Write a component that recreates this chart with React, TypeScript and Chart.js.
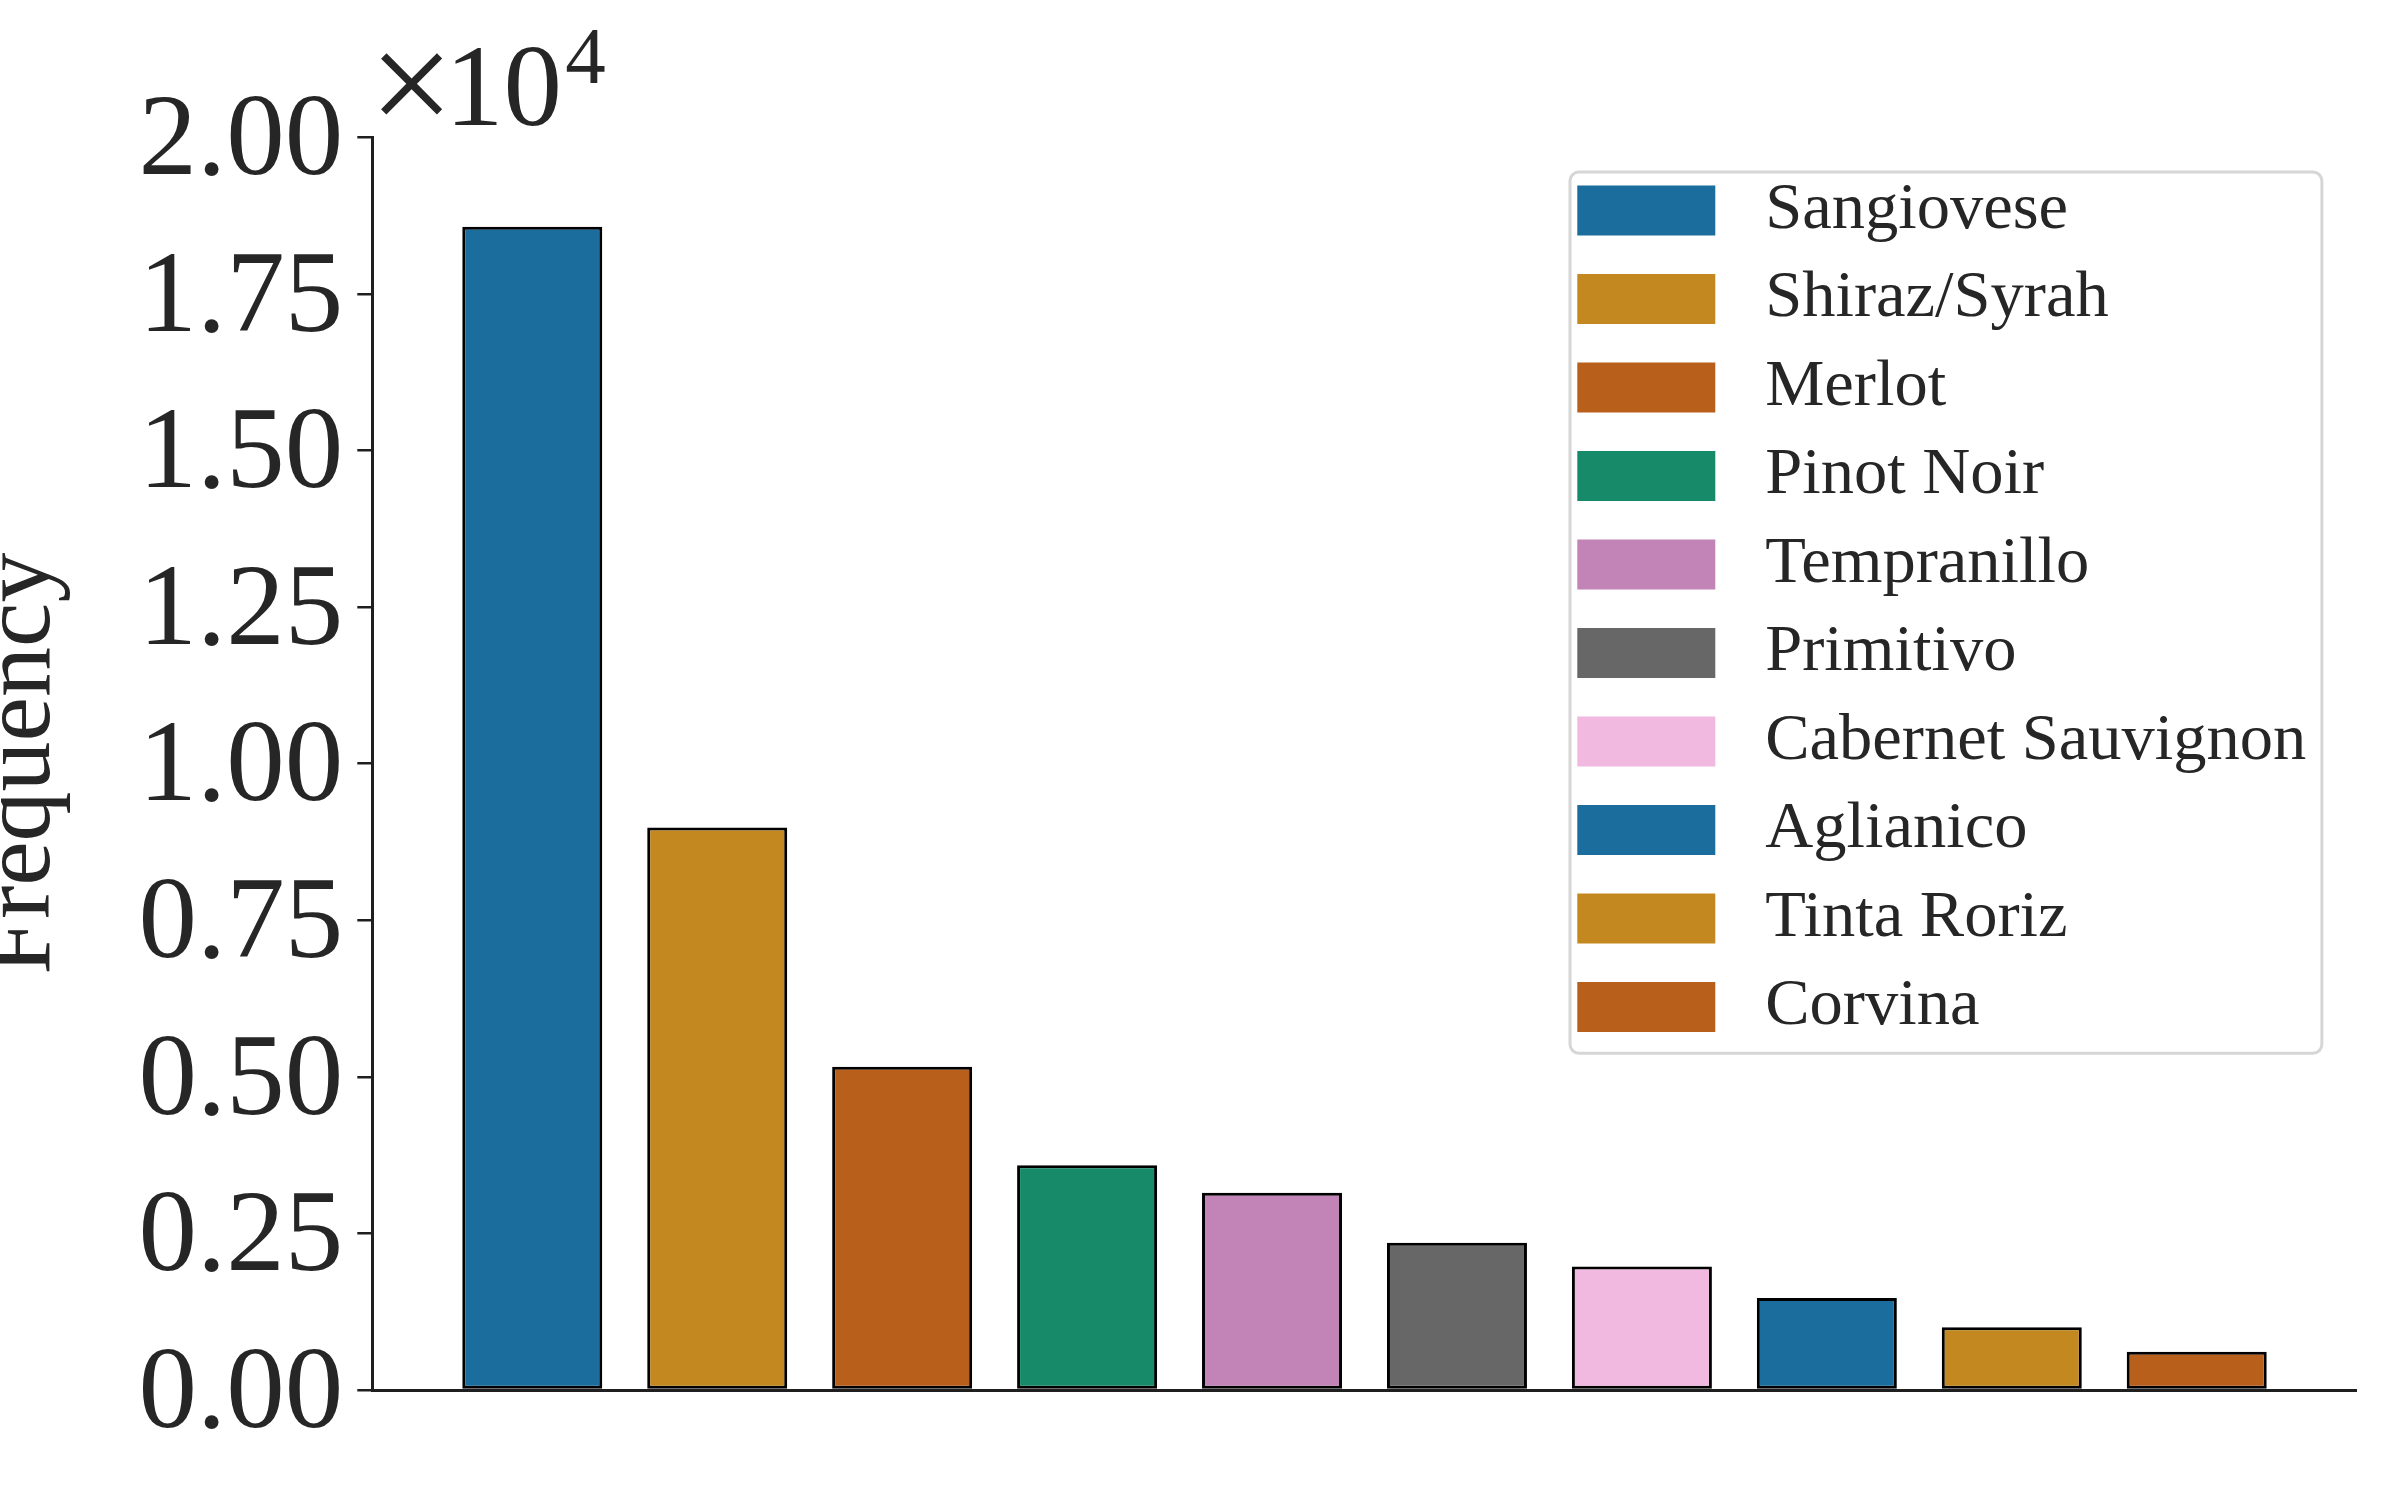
import React, { useEffect, useRef } from 'react';
import { Chart, registerables } from 'chart.js';

Chart.register(...registerables);

// ---------- data ----------
const categories = [
  'Sangiovese',
  'Shiraz/Syrah',
  'Merlot',
  'Pinot Noir',
  'Tempranillo',
  'Primitivo',
  'Cabernet Sauvignon',
  'Aglianico',
  'Tinta Roriz',
  'Corvina',
];
const frequencies = [18570, 8980, 5160, 3590, 3150, 2350, 1970, 1470, 1000, 610];
const barColors = [
  '#1a6d9c',
  '#c3881f',
  '#b95f1c',
  '#178a6a',
  '#c283b6',
  '#676767',
  '#f1b8e0',
  '#1a6d9c',
  '#c3881f',
  '#b95f1c',
];
const yTickLabels = ['0.00', '0.25', '0.50', '0.75', '1.00', '1.25', '1.50', '1.75', '2.00'];
const yAxisTitle = 'Frequency';
const offsetBase = '10';
const offsetTimes = '×';
const offsetExponent = '4';

// ---------- styles ----------
const FONT = '"Liberation Serif", "Times New Roman", Times, serif';
const TEXT = '#262626';
const AXIS = '#1f1f1f';

const legendPlacement = {
  id: 'legendPlacement',
  afterLayout(chart: any) {
    const lg = chart.legend;
    if (!lg) return;
    lg.left = 1555.3;
    lg.top = 155.2;
    lg.right = chart.width;
    lg.bottom = chart.height;
  },
};

const legendFrame = {
  id: 'legendFrame',
  afterDraw(chart: any) {
    const hb = chart.legend && chart.legend.legendHitBoxes;
    if (!hb || !hb.length) return;
    let l = Infinity, t = Infinity, r = -Infinity, b = -Infinity;
    for (const h of hb) {
      l = Math.min(l, h.left);
      t = Math.min(t, h.top);
      r = Math.max(r, h.left + h.width);
      b = Math.max(b, h.top + h.height);
    }
    const x0 = l - 7.3, y0 = t - 5.2, x1 = r + 15.6, y1 = b + 13.1;
    const ctx = chart.ctx;
    ctx.save();
    ctx.strokeStyle = '#d6d6d6';
    ctx.lineWidth = 3;
    ctx.beginPath();
    if (ctx.roundRect) ctx.roundRect(x0, y0, x1 - x0, y1 - y0, 9);
    else ctx.rect(x0, y0, x1 - x0, y1 - y0);
    ctx.stroke();
    ctx.restore();
  },
};

const offsetText = {
  id: 'offsetText',
  afterDraw(chart: any) {
    const { ctx, chartArea } = chart;
    const L = chartArea.left;
    const T = chartArea.top;
    ctx.save();
    ctx.fillStyle = TEXT;
    ctx.textBaseline = 'alphabetic';
    ctx.textAlign = 'center';
    ctx.font = `150px ${FONT}`;
    ctx.fillText(offsetTimes, L + 39.2, T - 3.5);
    ctx.textAlign = 'left';
    ctx.font = `117px ${FONT}`;
    ctx.fillText(offsetBase, L + 72.7, T - 12.8);
    ctx.font = `81px ${FONT}`;
    ctx.fillText(offsetExponent, L + 193, T - 54.5);
    ctx.restore();
  },
};

export default function App() {
  const ref = useRef<HTMLCanvasElement>(null);

  useEffect(() => {
    document.body.style.margin = '0';
    document.body.style.background = '#ffffff';
    const canvas = ref.current;
    if (!canvas) return;

    const chart = new Chart(canvas, {
      type: 'bar',
      data: {
        datasets: [
          {
            label: yAxisTitle,
            data: frequencies.map((v, i) => ({ x: i, y: v })),
            backgroundColor: barColors,
            borderColor: '#000000',
            borderWidth: 3,
            borderSkipped: false,
            barPercentage: 0.757,
            categoryPercentage: 1,
          } as any,
        ],
      },
      options: {
        animation: false,
        responsive: false,
        devicePixelRatio: 1,
        layout: { padding: { left: 0, top: 137.3, right: 43.3, bottom: 110 } },
        plugins: {
          legend: {
            position: 'chartArea' as any,
            align: 'start',
            onClick: () => {},
            labels: {
              boxWidth: 138,
              boxHeight: 50,
              padding: 22,
              color: TEXT,
              font: { size: 66.5, family: FONT },
              generateLabels: () =>
                categories.map((name, i) => ({
                  text: ' ' + name,
                  fillStyle: barColors[i],
                  strokeStyle: barColors[i],
                  lineWidth: 0,
                  hidden: false,
                  index: i,
                  datasetIndex: 0,
                  fontColor: TEXT,
                })) as any,
            },
          },
          tooltip: { enabled: false },
          title: { display: false },
        },
        scales: {
          x: {
            type: 'linear',
            offset: false,
            min: -0.865,
            max: 9.865,
            ticks: { display: false, stepSize: 1, includeBounds: false } as any,
            grid: { display: true, offset: false, drawOnChartArea: false, drawTicks: false },
            border: { display: true, color: AXIS, width: 3 },
            afterFit: (s: any) => {
              s.height = 0;
            },
          },
          y: {
            type: 'linear',
            min: 0,
            max: 20000,
            ticks: {
              stepSize: 2500,
              autoSkip: false,
              padding: 14,
              labelOffset: 6,
              color: TEXT,
              font: { size: 117, family: FONT },
              callback: (_v: any, i: number) => yTickLabels[i],
            },
            grid: {
              display: true,
              drawOnChartArea: false,
              drawTicks: true,
              tickLength: 15,
              color: AXIS,
              lineWidth: 2.5,
            },
            border: { display: true, color: AXIS, width: 3 },
            title: {
              display: true,
              text: yAxisTitle,
              color: TEXT,
              font: { size: 100, family: FONT, lineHeight: 0.456 },
              padding: 0,
            },
            afterFit: (s: any) => {
              s.width = 372.3;
            },
          },
        },
      },
      plugins: [legendPlacement, legendFrame, offsetText],
    });

    return () => chart.destroy();
  }, []);

  return (
    <div style={{ width: 2400, height: 1500, background: '#ffffff' }}>
      <canvas ref={ref} width={2400} height={1500} style={{ width: '2400px', height: '1500px', display: 'block' }} />
    </div>
  );
}
